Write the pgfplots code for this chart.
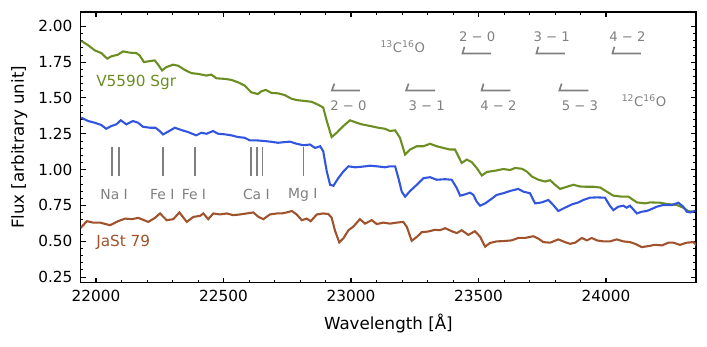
\documentclass[border=0pt]{standalone}
\usepackage{fontspec}
\setmainfont{DejaVu Sans}
\usepackage{pgfplots}
\pgfplotsset{compat=1.18}

\definecolor{cgreen}{RGB}{107,142,35}
\definecolor{cblue}{RGB}{50,85,222}
\definecolor{cbrown}{RGB}{160,82,45}
\definecolor{cgray}{RGB}{128,128,128}

% V5590 Sgr
\pgfplotstableread{
lam flux
21942 1.898
21969 1.868
21995 1.832
22021 1.813
22044 1.774
22060 1.790
22086 1.802
22106 1.825
22132 1.816
22158 1.813
22171 1.797
22188 1.750
22211 1.757
22230 1.762
22243 1.734
22259 1.692
22276 1.715
22302 1.732
22322 1.725
22348 1.696
22374 1.673
22400 1.668
22433 1.656
22452 1.663
22472 1.637
22505 1.633
22531 1.626
22557 1.609
22583 1.586
22609 1.539
22635 1.527
22648 1.546
22666 1.556
22688 1.535
22714 1.532
22740 1.520
22766 1.495
22787 1.485
22813 1.480
22846 1.473
22872 1.452
22891 1.433
22905 1.339
22924 1.227
22944 1.257
22970 1.304
22996 1.344
23022 1.327
23042 1.316
23075 1.304
23107 1.292
23133 1.285
23153 1.269
23173 1.274
23192 1.222
23212 1.105
23232 1.140
23258 1.163
23284 1.163
23310 1.180
23336 1.163
23362 1.151
23388 1.140
23408 1.140
23421 1.093
23434 1.046
23454 1.070
23473 1.053
23493 1.011
23513 0.959
23532 0.982
23545 0.987
23571 0.994
23597 1.004
23624 0.997
23643 1.011
23670 1.006
23689 0.987
23709 0.952
23735 0.929
23761 0.917
23781 0.926
23800 0.894
23820 0.865
23846 0.880
23872 0.894
23898 0.882
23925 0.880
23951 0.880
23977 0.875
24003 0.846
24029 0.818
24062 0.811
24088 0.811
24121 0.771
24153 0.764
24173 0.771
24212 0.769
24238 0.760
24278 0.753
24303 0.734
24323 0.710
24343 0.706
}\greentab

% middle spectrum
\pgfplotstableread{
lam flux
21942 1.363
21969 1.339
21995 1.327
22021 1.311
22040 1.285
22060 1.304
22080 1.316
22097 1.344
22119 1.316
22145 1.339
22165 1.327
22184 1.299
22211 1.292
22233 1.292
22250 1.269
22263 1.245
22282 1.264
22309 1.292
22335 1.276
22361 1.262
22393 1.239
22413 1.257
22433 1.250
22459 1.269
22479 1.250
22505 1.246
22531 1.239
22557 1.227
22583 1.222
22603 1.204
22629 1.204
22662 1.199
22688 1.194
22714 1.187
22740 1.192
22761 1.195
22787 1.180
22813 1.170
22839 1.175
22859 1.151
22879 1.163
22891 1.128
22905 0.987
22918 0.894
22931 0.887
22950 0.940
22970 0.987
22990 1.023
23016 1.016
23042 1.020
23075 1.027
23101 1.023
23133 1.016
23153 1.023
23173 1.023
23186 0.940
23199 0.846
23212 0.811
23232 0.851
23258 0.894
23284 0.940
23310 0.947
23336 0.929
23369 0.933
23395 0.929
23415 0.870
23428 0.818
23447 0.827
23467 0.839
23480 0.823
23493 0.776
23506 0.748
23526 0.764
23545 0.788
23571 0.823
23597 0.835
23624 0.851
23656 0.865
23676 0.846
23702 0.835
23722 0.764
23748 0.771
23774 0.788
23793 0.753
23813 0.711
23839 0.734
23866 0.757
23892 0.771
23911 0.788
23937 0.804
23964 0.806
23996 0.804
24015 0.748
24029 0.717
24048 0.741
24068 0.748
24081 0.734
24094 0.748
24121 0.694
24140 0.706
24160 0.711
24179 0.725
24199 0.741
24225 0.753
24258 0.753
24284 0.769
24303 0.741
24317 0.706
24330 0.701
24350 0.713
}\bluetab

% JaSt 79
\pgfplotstableread{
lam flux
21940 0.593
21964 0.640
21989 0.630
22016 0.630
22055 0.612
22087 0.640
22114 0.658
22140 0.654
22166 0.663
22205 0.635
22231 0.663
22251 0.694
22277 0.647
22303 0.654
22327 0.701
22356 0.635
22382 0.670
22408 0.677
22421 0.694
22440 0.654
22460 0.694
22486 0.687
22513 0.694
22538 0.682
22565 0.687
22591 0.694
22617 0.701
22637 0.670
22656 0.654
22682 0.687
22709 0.694
22728 0.694
22748 0.701
22768 0.711
22787 0.687
22807 0.647
22826 0.658
22842 0.640
22866 0.687
22891 0.694
22911 0.690
22924 0.665
22937 0.575
22954 0.492
22970 0.520
22990 0.577
23009 0.602
23035 0.654
23055 0.623
23081 0.647
23101 0.620
23127 0.630
23153 0.623
23179 0.630
23205 0.635
23219 0.600
23238 0.503
23258 0.530
23277 0.563
23303 0.568
23330 0.580
23349 0.577
23369 0.591
23395 0.570
23415 0.557
23434 0.577
23460 0.544
23486 0.570
23506 0.532
23526 0.462
23545 0.488
23571 0.499
23597 0.501
23630 0.506
23656 0.523
23683 0.523
23715 0.535
23735 0.518
23754 0.494
23781 0.490
23813 0.513
23839 0.494
23859 0.482
23879 0.490
23905 0.523
23925 0.506
23944 0.523
23964 0.506
23990 0.499
24016 0.499
24042 0.513
24068 0.499
24094 0.494
24114 0.482
24140 0.459
24166 0.466
24192 0.475
24219 0.471
24245 0.490
24264 0.490
24290 0.475
24317 0.490
24343 0.494
24356 0.471
}\browntab

\begin{document}
\begin{tikzpicture}
\begin{axis}[
    scale only axis,
    width=443pt, height=195pt,
    xmin=21940, xmax=24353,
    ymin=0.21, ymax=2.10,
    xtick={22000,22500,23000,23500,24000},
    ytick={0.25,0.5,0.75,1.0,1.25,1.5,1.75,2.0},
    scaled x ticks=false,
    scaled y ticks=false,
    minor x tick num=4,
    minor y tick num=4,
    tick align=inside,
    tick pos=both,
    major tick length=3.5pt,
    minor tick length=2pt,
    axis line style={line width=0.8pt},
    every tick/.style={black, line width=0.8pt},
    every minor tick/.style={black, line width=0.6pt},
    /pgf/number format/assume math mode=true,
    ticklabel style={font=\fontsize{11}{13}\selectfont, inner sep=0pt},
    xticklabel style={/pgf/number format/1000 sep={}},
    yticklabel style={/pgf/number format/.cd, fixed, fixed zerofill, precision=2},
    xticklabel shift=5pt,
    yticklabel shift=5.8pt,
    xlabel={Wavelength [Å]},
    ylabel={Flux [arbitrary unit]},
    label style={font=\fontsize{12}{14}\selectfont},
    xlabel style={at={(axis description cs:0.5,-0.151)}, anchor=center},
    ylabel style={at={(axis description cs:-0.100,0.5)}, anchor=center},
    clip=true,
]
\addplot[cgreen, line width=1.5pt] table[x=lam, y=flux] {\greentab};
\addplot[cblue, line width=1.5pt] table[x=lam, y=flux] {\bluetab};
\addplot[cbrown, line width=1.5pt] table[x=lam, y=flux] {\browntab};

% atomic lines
\foreach \l in {22062,22090,22263,22387,22609,22631,22653,22814} {
    \edef\tmp{\noexpand\addplot[cgray, line width=1.2pt, forget plot] coordinates {(\l,0.957) (\l,1.158)};}
    \tmp
}
\node[text=cgray, font=\fontsize{10}{12}\selectfont] at (axis cs:22071,0.827) {Na I};
\node[text=cgray, font=\fontsize{10}{12}\selectfont] at (axis cs:22260,0.827) {Fe I};
\node[text=cgray, font=\fontsize{10}{12}\selectfont] at (axis cs:22384,0.827) {Fe I};
\node[text=cgray, font=\fontsize{10}{12}\selectfont] at (axis cs:22629,0.827) {Ca I};
\node[text=cgray, font=\fontsize{10}{12}\selectfont] at (axis cs:22811,0.827) {Mg I};

% 12CO bandheads
\addplot[cgray, line width=1.2pt, forget plot] coordinates {(22935,1.60) (22925,1.552) (23035,1.552)};
\addplot[cgray, line width=1.2pt, forget plot] coordinates {(23226,1.60) (23216,1.552) (23330,1.552)};
\addplot[cgray, line width=1.2pt, forget plot] coordinates {(23520,1.60) (23512,1.552) (23625,1.552)};
\addplot[cgray, line width=1.2pt, forget plot] coordinates {(23826,1.60) (23817,1.552) (23931,1.552)};
% 13CO bandheads
\addplot[cgray, line width=1.2pt, forget plot] coordinates {(23445,1.857) (23437,1.81) (23548,1.81)};
\addplot[cgray, line width=1.2pt, forget plot] coordinates {(23735,1.857) (23727,1.81) (23839,1.81)};
\addplot[cgray, line width=1.2pt, forget plot] coordinates {(24033,1.857) (24025,1.81) (24137,1.81)};

\node[text=cgray, font=\fontsize{9.5}{11}\selectfont] at (axis cs:22990,1.445) {2 − 0};
\node[text=cgray, font=\fontsize{9.5}{11}\selectfont] at (axis cs:23297,1.445) {3 − 1};
\node[text=cgray, font=\fontsize{9.5}{11}\selectfont] at (axis cs:23578,1.445) {4 − 2};
\node[text=cgray, font=\fontsize{9.5}{11}\selectfont] at (axis cs:23898,1.445) {5 − 3};
\node[text=cgray, font=\fontsize{9.5}{11}\selectfont] at (axis cs:23495,1.926) {2 − 0};
\node[text=cgray, font=\fontsize{9.5}{11}\selectfont] at (axis cs:23787,1.926) {3 − 1};
\node[text=cgray, font=\fontsize{9.5}{11}\selectfont] at (axis cs:24084,1.926) {4 − 2};
\node[text=cgray, font=\fontsize{9.5}{11}\selectfont] at (axis cs:23203,1.86) {\textsuperscript{13}C\textsuperscript{16}O};
\node[text=cgray, font=\fontsize{9.5}{11}\selectfont] at (axis cs:24149,1.48) {\textsuperscript{12}C\textsuperscript{16}O};

\node[text=cgreen, font=\fontsize{11}{13}\selectfont, anchor=west, inner sep=0pt] at (axis cs:22000,1.609) {V5590 Sgr};
\node[text=cbrown, font=\fontsize{11}{13}\selectfont, anchor=west, inner sep=0pt] at (axis cs:22000,0.494) {JaSt 79};
\end{axis}
\pgfresetboundingbox
\path ([xshift=-58.1pt,yshift=-46.1pt]current axis.south west) rectangle ([xshift=7.9pt,yshift=8.6pt]current axis.north east);
\end{tikzpicture}
\end{document}
